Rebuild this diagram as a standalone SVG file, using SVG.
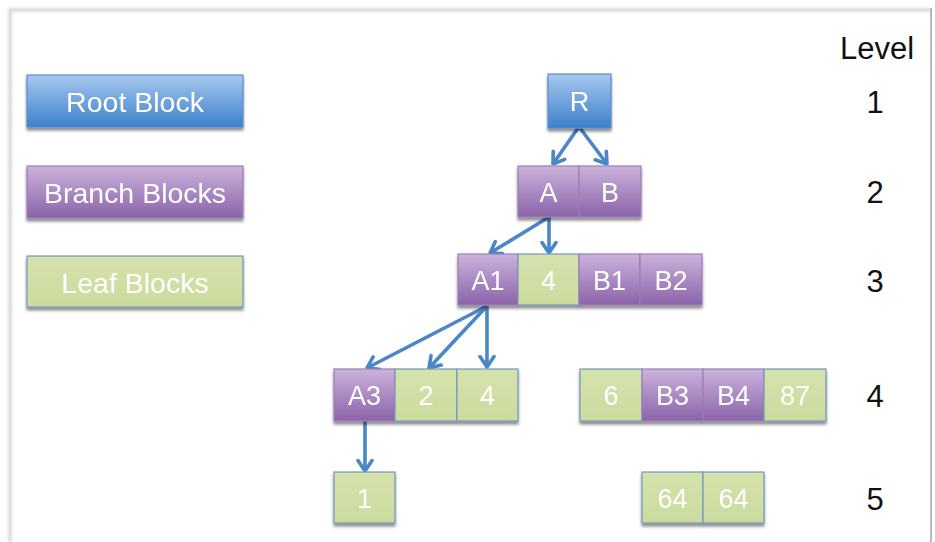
<svg xmlns="http://www.w3.org/2000/svg" width="935" height="542" viewBox="0 0 935 542">
<defs>
  <linearGradient id="gBlue" x1="0" y1="0" x2="0" y2="1">
    <stop offset="0" stop-color="#a6c8ee"/>
    <stop offset="1" stop-color="#3d80cb"/>
  </linearGradient>
  <linearGradient id="gPurple" x1="0" y1="0" x2="0" y2="1">
    <stop offset="0" stop-color="#cbb3dc"/>
    <stop offset="1" stop-color="#8a63a9"/>
  </linearGradient>
  <linearGradient id="gGreen" x1="0" y1="0" x2="0" y2="1">
    <stop offset="0" stop-color="#d6e2ac"/>
    <stop offset="1" stop-color="#cbdb9e"/>
  </linearGradient>
  <filter id="sh" x="-20%" y="-20%" width="140%" height="150%">
    <feGaussianBlur in="SourceAlpha" stdDeviation="1.8"/>
    <feOffset dx="0" dy="2.5" result="b"/>
    <feComponentTransfer><feFuncA type="linear" slope="0.45"/></feComponentTransfer>
    <feMerge><feMergeNode/><feMergeNode in="SourceGraphic"/></feMerge>
  </filter>
  <filter id="fb" x="-50%" y="-50%" width="200%" height="200%">
    <feGaussianBlur stdDeviation="1.5"/>
  </filter>
  <marker id="arr" viewBox="0 0 14 18" refX="12.5" refY="9" markerWidth="14" markerHeight="18" markerUnits="userSpaceOnUse" orient="auto">
    <path d="M2,2 L12.5,9 L2,16" fill="none" stroke="#4b86c6" stroke-width="3.6" stroke-linecap="round" stroke-linejoin="round"/>
  </marker>
  <style>
    .blue{fill:url(#gBlue);stroke:#5a8ccc;stroke-width:1.2}
    .purple{fill:url(#gPurple);stroke:#9a7eb8;stroke-width:1.2}
    .green{fill:url(#gGreen);stroke:#6f98c0;stroke-width:1.2}
    .t{font-family:"Liberation Sans",Arial,sans-serif;fill:#ffffff;text-anchor:middle;font-size:27px}
    .lg{font-size:28.5px}
    .lv{font-family:"Liberation Sans",Arial,sans-serif;fill:#111;text-anchor:middle;font-size:31px}
    .cn{fill:none;stroke:#4b86c6;stroke-width:3.6;marker-end:url(#arr)}
  </style>
</defs>
<rect x="0" y="0" width="935" height="542" fill="#ffffff"/>
<g id="frame">
  <path d="M10,542 L10,10 L931,10" fill="none" stroke="#cfcfcf" stroke-width="3" filter="url(#fb)"/>
  <line x1="931" y1="8" x2="931" y2="542" stroke="#b8b8b8" stroke-width="2"/>
</g>

<g id="legend-root" filter="url(#sh)"><rect class="blue" x="27" y="75" width="216" height="52"/><text class="t lg" x="135" y="112">Root Block</text></g>
<g id="legend-branch" filter="url(#sh)"><rect class="purple" x="27" y="166" width="216" height="52"/><text class="t lg" x="135" y="203">Branch Blocks</text></g>
<g id="legend-leaf" filter="url(#sh)"><rect class="green" x="27" y="256" width="216" height="51"/><text class="t lg" x="135" y="293">Leaf Blocks</text></g>

<g id="level-labels">
  <text class="lv" x="877" y="59">Level</text>
  <text class="lv" x="875" y="113">1</text>
  <text class="lv" x="875" y="203">2</text>
  <text class="lv" x="875" y="292">3</text>
  <text class="lv" x="875" y="407">4</text>
  <text class="lv" x="875" y="510">5</text>
</g>

<g id="connectors">
  <line class="cn" x1="578" y1="128" x2="553" y2="164"/>
  <line class="cn" x1="580" y1="128" x2="607" y2="164"/>
  <line class="cn" x1="549" y1="217" x2="490" y2="253"/>
  <line class="cn" x1="549" y1="217" x2="549" y2="253"/>
  <line class="cn" x1="487" y1="306" x2="367" y2="368"/>
  <line class="cn" x1="487" y1="306" x2="429" y2="368"/>
  <line class="cn" x1="487" y1="306" x2="487" y2="367"/>
  <line class="cn" x1="365" y1="421" x2="365" y2="471"/>
</g>

<g id="node-R" filter="url(#sh)"><rect class="blue" x="548" y="74" width="63" height="54"/><text class="t" x="579.5" y="111">R</text></g>

<g id="node-level2" filter="url(#sh)">
  <g id="node-A"><rect class="purple" x="518" y="166" width="61" height="51"/><text class="t" x="548.5" y="202">A</text></g>
  <g id="node-B"><rect class="purple" x="579" y="166" width="62" height="51"/><text class="t" x="610" y="202">B</text></g>
</g>

<g id="node-level3" filter="url(#sh)">
  <g id="node-A1"><rect class="purple" x="458" y="254" width="60" height="51"/><text class="t" x="488" y="290">A1</text></g>
  <g id="node-4a"><rect class="green" x="518" y="254" width="61" height="51"/><text class="t" x="548.5" y="290">4</text></g>
  <g id="node-B1"><rect class="purple" x="579" y="254" width="61" height="51"/><text class="t" x="609.5" y="290">B1</text></g>
  <g id="node-B2"><rect class="purple" x="640" y="254" width="62" height="51"/><text class="t" x="671" y="290">B2</text></g>
</g>

<g id="node-level4-left" filter="url(#sh)">
  <g id="node-A3"><rect class="purple" x="334" y="369" width="61" height="52"/><text class="t" x="364.5" y="405">A3</text></g>
  <g id="node-2"><rect class="green" x="395" y="369" width="62" height="52"/><text class="t" x="426" y="405">2</text></g>
  <g id="node-4b"><rect class="green" x="457" y="369" width="61" height="52"/><text class="t" x="487.5" y="405">4</text></g>
</g>

<g id="node-level4-right" filter="url(#sh)">
  <g id="node-6"><rect class="green" x="580" y="369" width="62" height="52"/><text class="t" x="611" y="405">6</text></g>
  <g id="node-B3"><rect class="purple" x="642" y="369" width="61" height="52"/><text class="t" x="672.5" y="405">B3</text></g>
  <g id="node-B4"><rect class="purple" x="703" y="369" width="61" height="52"/><text class="t" x="733.5" y="405">B4</text></g>
  <g id="node-87"><rect class="green" x="764" y="369" width="62" height="52"/><text class="t" x="795" y="405">87</text></g>
</g>

<g id="node-level5-left" filter="url(#sh)">
  <g id="node-1"><rect class="green" x="334" y="472" width="61" height="51"/><text class="t" x="364.5" y="508">1</text></g>
</g>

<g id="node-level5-right" filter="url(#sh)">
  <g id="node-64a"><rect class="green" x="642" y="472" width="61" height="51"/><text class="t" x="672.5" y="508">64</text></g>
  <g id="node-64b"><rect class="green" x="703" y="472" width="61" height="51"/><text class="t" x="733.5" y="508">64</text></g>
</g>
</svg>
